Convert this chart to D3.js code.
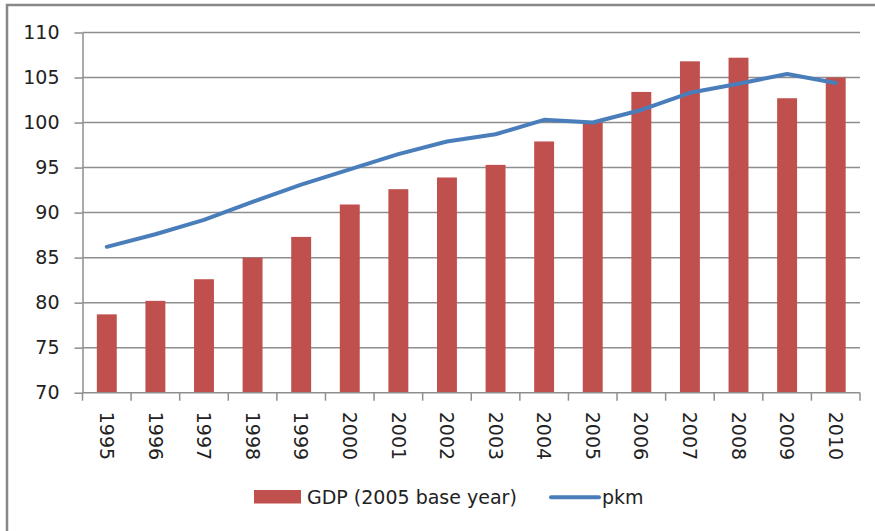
<!DOCTYPE html>
<html>
<head>
<meta charset="utf-8">
<script src="https://cdn.jsdelivr.net/npm/d3@7"></script>
<style>
  body { margin: 0; background: #fff; }
  svg text { font-family: "DejaVu Sans", sans-serif; fill: #222; }
</style>
</head>
<body>
<svg id="chart" width="875" height="531"></svg>
<script>
// data
var years = ["1995", "1996", "1997", "1998", "1999", "2000", "2001", "2002",
             "2003", "2004", "2005", "2006", "2007", "2008", "2009", "2010"];
var gdp = [78.7, 80.2, 82.6, 85.0, 87.3, 90.9, 92.6, 93.9,
           95.3, 97.9, 100.0, 103.4, 106.8, 107.2, 102.7, 105.0];
var pkm = [86.2, 87.6, 89.2, 91.2, 93.1, 94.8, 96.5, 97.9,
           98.7, 100.3, 100.0, 101.4, 103.3, 104.3, 105.4, 104.4];
var yTicks = [70, 75, 80, 85, 90, 95, 100, 105, 110];
var seriesNames = ["GDP (2005 base year)", "pkm"];

var svg = d3.select("#chart");
var margin = {top: 32.5, right: 15, bottom: 138.3, left: 82.5};
var width = 875, height = 531;
var gridColor = "#8e8e8e";

// outer frame (right and bottom edges fall outside the picture)
svg.append("rect")
    .attr("x", 7).attr("y", 5)
    .attr("width", 900).attr("height", 560)
    .attr("fill", "none")
    .attr("stroke", "#888")
    .attr("stroke-width", 2.5);

var x = d3.scaleBand()
    .domain(years)
    .range([margin.left, width - margin.right])
    .paddingInner(0.59)
    .paddingOuter(0.295);

var y = d3.scaleLinear()
    .domain([70, 110])
    .range([height - margin.bottom, margin.top]);

// gridlines
svg.append("g")
    .selectAll("line").data(yTicks.slice(1)).enter()
    .append("line")
    .attr("x1", x.range()[0]).attr("x2", x.range()[1])
    .attr("y1", d => y(d)).attr("y2", d => y(d))
    .attr("stroke", gridColor)
    .attr("stroke-width", 1.5);

// y axis
var yAxis = svg.append("g")
    .attr("transform", `translate(${margin.left},0)`)
    .call(d3.axisLeft(y).tickValues(yTicks).tickSize(8).tickPadding(15).tickSizeOuter(0));
yAxis.select(".domain").attr("stroke", gridColor).attr("stroke-width", 1.5);
yAxis.selectAll(".tick line").attr("stroke", gridColor).attr("stroke-width", 1.5);
yAxis.selectAll("text").attr("font-size", 19).attr("fill", "#222");

// bars
svg.append("g")
    .attr("fill", "#c0504d")
    .selectAll("rect").data(gdp).enter()
    .append("rect")
    .attr("x", (d, i) => x(years[i]))
    .attr("y", d => y(d))
    .attr("width", x.bandwidth())
    .attr("height", d => y(70) - y(d));

// x axis: ticks sit between categories
var bounds = d3.range(years.length + 1).map(i => x.range()[0] + i * x.step());
var xg = svg.append("g").attr("transform", `translate(0,${y(70)})`);
xg.append("line")
    .attr("x1", x.range()[0]).attr("x2", x.range()[1])
    .attr("stroke", gridColor).attr("stroke-width", 1.5);
xg.selectAll(".tk").data(bounds).enter()
    .append("line")
    .attr("x1", d => d).attr("x2", d => d)
    .attr("y1", 0).attr("y2", 8)
    .attr("stroke", gridColor).attr("stroke-width", 1.5);
xg.selectAll("text").data(years).enter()
    .append("text")
    .attr("transform", d => `translate(${x(d) + x.bandwidth() / 2},19) rotate(90)`)
    .attr("dy", "0.36em")
    .attr("font-size", 19)
    .text(d => d);

// pkm line
var line = d3.line()
    .x((d, i) => x(years[i]) + x.bandwidth() / 2)
    .y(d => y(d));
svg.append("path")
    .datum(pkm)
    .attr("d", line)
    .attr("fill", "none")
    .attr("stroke", "#4a7ebb")
    .attr("stroke-width", 4)
    .attr("stroke-linecap", "round")
    .attr("stroke-linejoin", "round");

// legend
var lg = svg.append("g");
lg.append("rect")
    .attr("x", 254).attr("y", 490)
    .attr("width", 47).attr("height", 13.5)
    .attr("fill", "#c0504d");
lg.append("text")
    .attr("x", 307).attr("y", 504)
    .attr("font-size", 19)
    .text(seriesNames[0]);
lg.append("line")
    .attr("x1", 551).attr("x2", 599)
    .attr("y1", 497.3).attr("y2", 497.3)
    .attr("stroke", "#4a7ebb")
    .attr("stroke-width", 4)
    .attr("stroke-linecap", "round");
lg.append("text")
    .attr("x", 602).attr("y", 504)
    .attr("font-size", 19)
    .text(seriesNames[1]);
</script>
</body>
</html>
